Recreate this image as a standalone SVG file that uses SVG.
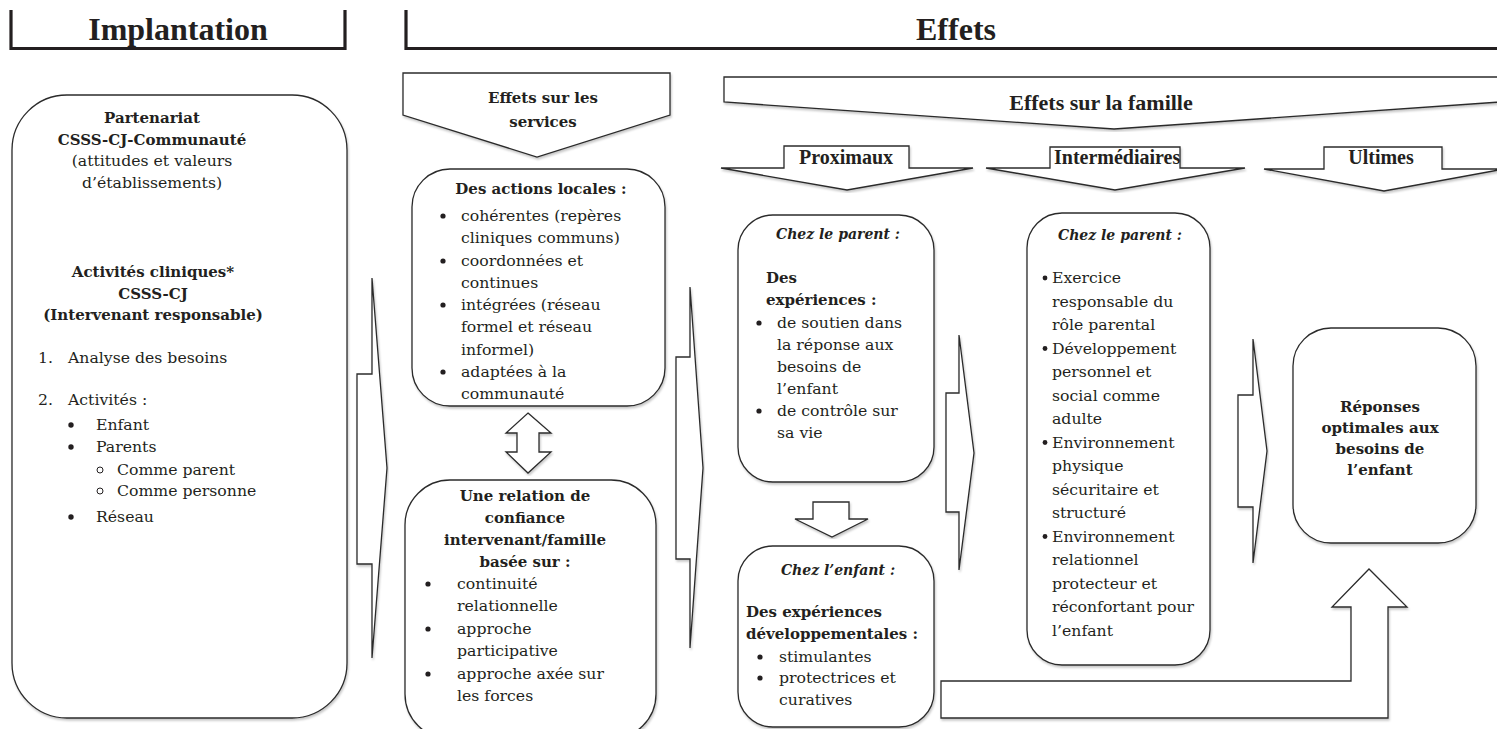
<svg xmlns="http://www.w3.org/2000/svg" width="1497" height="729" viewBox="0 0 1497 729">
<defs>
<filter id="sh" x="-5%" y="-5%" width="110%" height="110%">
<feDropShadow dx="1" dy="2" stdDeviation="1" flood-color="#000" flood-opacity="0.22"/>
</filter>
</defs>
<style>
.box{fill:#fff;stroke:#2b2b2b;stroke-width:1.3;filter:url(#sh)}
.arr{fill:#fff;stroke:#2b2b2b;stroke-width:1.3;filter:url(#sh)}
.brk{fill:none;stroke:#231f20;stroke-width:3.2}
.hd{font-family:"Liberation Serif",serif;font-weight:bold;fill:#231f20}
.t{font-family:"DejaVu Serif",serif;font-size:15.7px;fill:#231f20}
.b{font-family:"DejaVu Serif",serif;font-size:15px;font-weight:bold;fill:#231f20}
.bi{font-family:"DejaVu Serif",serif;font-size:14px;font-weight:bold;font-style:italic;fill:#231f20}
.dot{fill:#231f20}
.odot{fill:none;stroke:#231f20;stroke-width:1}
.c{text-anchor:middle}
</style>

<g id="header-implantation">
<polyline class="brk" points="11,10 11,48.5 345,48.5 345,10"/>
<text class="hd c" x="178" y="40" font-size="32">Implantation</text>
</g>
<g id="header-effets">
<polyline class="brk" points="406,10 406,48.5 1497,48.5"/>
<text class="hd c" x="956" y="40" font-size="32">Effets</text>
</g>

<g id="connectors">
<polygon class="arr" points="357,374 372,374 372,278 387,468 372,658 372,564 357,564"/>
<polygon class="arr" points="676,357 690,357 690,287 703,468 690,648 690,559 676,559"/>
<polygon class="arr" points="946,393 959,393 959,335 974,453 959,570 959,512 946,512"/>
<polygon class="arr" points="1238,395 1253,395 1253,339 1267,451 1253,563 1253,507 1238,507"/>
<polygon class="arr" points="528,413 551,433 539,433 539,452 551,452 528,473 506,452 517,452 517,433 506,433"/>
<polygon class="arr" points="813,502 849,502 849,519 868,519 832,537 795,519 813,519"/>
<polygon class="arr" points="941,681 1351,681 1351,607 1332,607 1369,569 1407,607 1388,607 1388,718 941,718"/>
</g>

<g id="implantation">
<rect class="box" x="12" y="95" width="335" height="623" rx="55" ry="55"/>
<text class="b c" x="152" y="123">Partenariat</text>
<text class="b c" x="152" y="145">CSSS-CJ-Communauté</text>
<text class="t c" x="152" y="166">(attitudes et valeurs</text>
<text class="t c" x="152" y="188">d’établissements)</text>
<text class="b c" x="153" y="277">Activités cliniques*</text>
<text class="b c" x="153" y="299">CSSS-CJ</text>
<text class="b c" x="153" y="320">(Intervenant responsable)</text>
<text class="t" x="38" y="363">1.</text>
<text class="t" x="68" y="363">Analyse des besoins</text>
<text class="t" x="38" y="405">2.</text>
<text class="t" x="68" y="405">Activités :</text>
<circle class="dot" cx="71" cy="425" r="2.7"/>
<text class="t" x="96" y="430">Enfant</text>
<circle class="dot" cx="71" cy="447" r="2.7"/>
<text class="t" x="96" y="452">Parents</text>
<circle class="odot" cx="100" cy="470" r="3"/>
<text class="t" x="117" y="475">Comme parent</text>
<circle class="odot" cx="100" cy="491" r="3"/>
<text class="t" x="117" y="496">Comme personne</text>
<circle class="dot" cx="71" cy="517" r="2.7"/>
<text class="t" x="96" y="522">Réseau</text>
</g>

<g id="effets-services">
<polygon class="arr" points="403,73 670,73 670,115 537,157 403,115"/>
<text class="b c" x="543" y="103" font-size="17">Effets sur les</text>
<text class="b c" x="543" y="127" font-size="17">services</text>
</g>

<g id="actions-locales">
<rect class="box" x="412" y="169" width="253" height="237" rx="38" ry="38"/>
<text class="b c" x="541" y="194">Des actions locales :</text>
<circle class="dot" cx="443" cy="216" r="2.6"/>
<text class="t" x="461" y="221">cohérentes (repères</text>
<text class="t" x="461" y="243">cliniques communs)</text>
<circle class="dot" cx="443" cy="261" r="2.6"/>
<text class="t" x="461" y="266">coordonnées et</text>
<text class="t" x="461" y="288">continues</text>
<circle class="dot" cx="443" cy="305" r="2.6"/>
<text class="t" x="461" y="310">intégrées (réseau</text>
<text class="t" x="461" y="332">formel et réseau</text>
<text class="t" x="461" y="355">informel)</text>
<circle class="dot" cx="443" cy="372" r="2.6"/>
<text class="t" x="461" y="377">adaptées à la</text>
<text class="t" x="461" y="399">communauté</text>
</g>

<g id="relation-confiance">
<rect class="box" x="405" y="480" width="251" height="259" rx="45" ry="45"/>
<text class="b c" x="525" y="501">Une relation de</text>
<text class="b c" x="525" y="523">confiance</text>
<text class="b c" x="525" y="545">intervenant/famille</text>
<text class="b c" x="525" y="567">basée sur :</text>
<circle class="dot" cx="428" cy="584" r="2.6"/>
<text class="t" x="457" y="589">continuité</text>
<text class="t" x="457" y="611">relationnelle</text>
<circle class="dot" cx="428" cy="629" r="2.6"/>
<text class="t" x="457" y="634">approche</text>
<text class="t" x="457" y="656">participative</text>
<circle class="dot" cx="428" cy="674" r="2.6"/>
<text class="t" x="457" y="679">approche axée sur</text>
<text class="t" x="457" y="701">les forces</text>
</g>

<g id="effets-famille">
<polygon class="arr" points="724,77 1500,77 1500,102 1114,129 724,102"/>
<text class="hd c" x="1101" y="110" font-size="22">Effets sur la famille</text>
</g>

<g id="proximaux">
<polygon class="arr" points="784,146 909,146 909,168 973,168 847,190 721,168 784,168"/>
<text class="hd c" x="846" y="164" font-size="20">Proximaux</text>
</g>
<g id="intermediaires">
<polygon class="arr" points="1050,147 1180,147 1180,168 1245,168 1115,190 986,168 1050,168"/>
<text class="hd" x="1054" y="164" font-size="20">Intermédiaires</text>
</g>
<g id="ultimes">
<polygon class="arr" points="1324,147 1442,147 1442,169 1504,169 1384,191 1264,169 1324,169"/>
<text class="hd c" x="1381" y="164" font-size="20">Ultimes</text>
</g>

<g id="parent-proximal">
<rect class="box" x="738" y="215" width="196" height="267" rx="35" ry="35"/>
<text class="bi c" x="838" y="239">Chez le parent :</text>
<text class="b" x="766" y="283">Des</text>
<text class="b" x="766" y="305">expériences :</text>
<circle class="dot" cx="759" cy="323" r="2.6"/>
<text class="t" x="777" y="328">de soutien dans</text>
<text class="t" x="777" y="350">la réponse aux</text>
<text class="t" x="777" y="372">besoins de</text>
<text class="t" x="777" y="394">l’enfant</text>
<circle class="dot" cx="759" cy="411" r="2.6"/>
<text class="t" x="777" y="416">de contrôle sur</text>
<text class="t" x="777" y="438">sa vie</text>
</g>

<g id="enfant-proximal">
<rect class="box" x="738" y="546" width="196" height="181" rx="35" ry="35"/>
<text class="bi c" x="838" y="575">Chez l’enfant :</text>
<text class="b" x="746" y="617">Des expériences</text>
<text class="b" x="746" y="639">développementales :</text>
<circle class="dot" cx="760" cy="657" r="2.6"/>
<text class="t" x="779" y="662">stimulantes</text>
<circle class="dot" cx="760" cy="678" r="2.6"/>
<text class="t" x="779" y="683">protectrices et</text>
<text class="t" x="779" y="705">curatives</text>
</g>

<g id="parent-intermediaire">
<rect class="box" x="1027" y="213" width="183" height="452" rx="35" ry="35"/>
<text class="bi c" x="1120" y="240">Chez le parent :</text>
<circle class="dot" cx="1045" cy="278" r="2.4"/>
<text class="t" x="1052" y="283">Exercice</text>
<text class="t" x="1052" y="306.5">responsable du</text>
<text class="t" x="1052" y="330">rôle parental</text>
<circle class="dot" cx="1045" cy="348.5" r="2.4"/>
<text class="t" x="1052" y="353.5">Développement</text>
<text class="t" x="1052" y="377">personnel et</text>
<text class="t" x="1052" y="400.5">social comme</text>
<text class="t" x="1052" y="424">adulte</text>
<circle class="dot" cx="1045" cy="442.5" r="2.4"/>
<text class="t" x="1052" y="447.5">Environnement</text>
<text class="t" x="1052" y="471">physique</text>
<text class="t" x="1052" y="494.5">sécuritaire et</text>
<text class="t" x="1052" y="518">structuré</text>
<circle class="dot" cx="1045" cy="536.5" r="2.4"/>
<text class="t" x="1052" y="541.5">Environnement</text>
<text class="t" x="1052" y="565">relationnel</text>
<text class="t" x="1052" y="588.5">protecteur et</text>
<text class="t" x="1052" y="612">réconfortant pour</text>
<text class="t" x="1052" y="635.5">l’enfant</text>
</g>

<g id="reponses-optimales">
<rect class="box" x="1293" y="328" width="183" height="215" rx="38" ry="38"/>
<text class="b c" x="1380" y="412">Réponses</text>
<text class="b c" x="1380" y="433">optimales aux</text>
<text class="b c" x="1380" y="454">besoins de</text>
<text class="b c" x="1380" y="475">l’enfant</text>
</g>
</svg>
